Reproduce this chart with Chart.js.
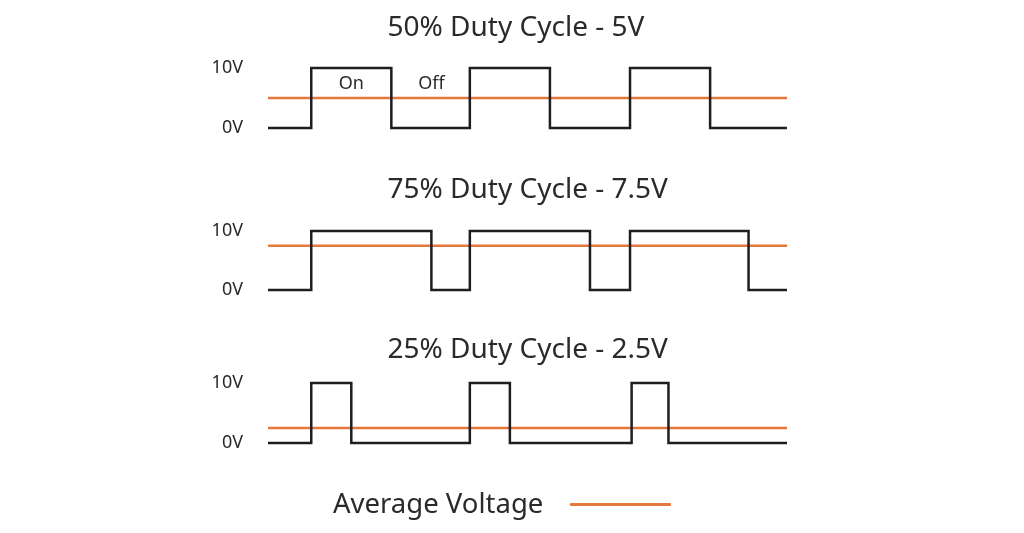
<!DOCTYPE html>
<html><head><meta charset="utf-8">
<script src="https://cdn.jsdelivr.net/npm/chart.js@4"></script>
<style>
html,body{margin:0;padding:0;background:#fff;width:1024px;height:533px;overflow:hidden;}
canvas.c{position:absolute;left:0;top:0;}
#legend{position:absolute;left:333px;top:484px;font-family:'Noto Sans',sans-serif;font-size:27.5px;line-height:38px;color:#2a2a2a;white-space:nowrap;}
#legendLine{position:absolute;left:570px;top:503px;width:101px;height:3px;background:#e5793b;border-radius:1px;}
</style></head>
<body>
<canvas class="c" id="c1" width="1024" height="533"></canvas>
<canvas class="c" id="c2" width="1024" height="533"></canvas>
<canvas class="c" id="c3" width="1024" height="533"></canvas>
<div id="legend">Average Voltage</div>
<div id="legendLine"></div>
<script>
// ---- data ----
const titles = ['50% Duty Cycle - 5V', '75% Duty Cycle - 7.5V', '25% Duty Cycle - 2.5V'];
const averages = [5, 7.5, 2.5];
// time (periods) at which the level changes, and the level held from that time
const times50 = [0, 0.27, 0.77, 1.26, 1.76, 2.26, 2.76, 3.24];
const levels50 = [0, 10, 0, 10, 0, 10, 0, 0];
const times75 = [0, 0.27, 1.02, 1.26, 2.01, 2.26, 3.00, 3.24];
const levels75 = [0, 10, 0, 10, 0, 10, 0, 0];
const times25 = [0, 0.27, 0.52, 1.26, 1.51, 2.27, 2.50, 3.24];
const levels25 = [0, 10, 0, 10, 0, 10, 0, 0];
const yTickValues = [0, 10];
const yTickLabels = ['0V', '10V'];
const noteLabels = ['On', 'Off'];
const noteX = [0.52, 1.02];
const noteY = [7.4, 7.4];
const legendLabel = 'Average Voltage';

const FONT = "'Noto Sans', sans-serif";
const BLACK = '#1e1e1e';
const ORANGE = '#e5793b';
const TEXT = '#2a2a2a';
const X_END = 3.24;

// layout per chart (pixel geometry)
const geo = [
  {capCenter: 28.5, plotTop: 68,  plotBottom: 128},
  {capCenter: 190,  plotTop: 231, plotBottom: 290},
  {capCenter: 350,  plotTop: 383, plotBottom: 443}
];
const PLOT_LEFT = 268, DATA_RIGHT = 787, TITLE_LEFT = 387.5, TITLE_SIZE = 28, PAD_L = 200;

const measureCtx = document.createElement('canvas').getContext('2d');

const notesPlugin = {
  id: 'notes',
  afterDatasetsDraw(chart, args, opts) {
    if (!opts.labels) return;
    const {ctx, scales} = chart;
    ctx.save();
    ctx.font = "18px " + FONT;
    ctx.fillStyle = TEXT;
    ctx.textAlign = 'center';
    ctx.textBaseline = 'middle';
    opts.labels.forEach((t, i) => {
      ctx.fillText(t, scales.x.getPixelForValue(opts.xs[i]), scales.y.getPixelForValue(opts.ys[i]));
    });
    ctx.restore();
  }
};

function makeChart(id, idx, times, levels, notes) {
  const g = geo[idx];
  const lh = TITLE_SIZE * 1.2;
  measureCtx.font = TITLE_SIZE + 'px ' + FONT;
  const w = measureCtx.measureText(titles[idx]).width;
  const center = TITLE_LEFT + w / 2;
  // full-size title is centred between PAD_L and the right edge of the chart area
  const areaRight = 2 * center - PAD_L;
  const xMax = X_END * (areaRight - PLOT_LEFT) / (DATA_RIGHT - PLOT_LEFT);
  new Chart(document.getElementById(id), {
    type: 'line',
    data: {
      datasets: [
        {
          label: 'Signal',
          data: times.map((t, i) => ({x: t, y: levels[i]})),
          borderColor: BLACK, borderWidth: 2.5, stepped: true,
          pointRadius: 0, fill: false, clip: false, borderJoinStyle: 'miter', borderCapStyle: 'butt'
        },
        {
          label: legendLabel,
          data: [{x: 0, y: averages[idx]}, {x: X_END, y: averages[idx]}],
          borderColor: ORANGE, borderWidth: 2.5, pointRadius: 0, fill: false, clip: false
        }
      ]
    },
    options: {
      responsive: false, animation: false, events: [],
      layout: {padding: {left: PAD_L, right: 1024 - areaRight, top: 0, bottom: 533 - g.plotBottom}},
      plugins: {
        legend: {display: false},
        tooltip: {enabled: false},
        title: {
          display: true, text: titles[idx], color: TEXT,
          font: {family: FONT, size: TITLE_SIZE, weight: 'normal'},
          padding: {top: g.capCenter - lh / 2, bottom: g.plotTop - (g.capCenter + lh / 2)}
        },
        notes: notes || {}
      },
      scales: {
        x: {type: 'linear', min: 0, max: xMax, display: false},
        y: {
          min: 0, max: 10,
          afterFit(s) { s.width = PLOT_LEFT - PAD_L; },
          afterBuildTicks(s) { s.ticks = yTickValues.map(v => ({value: v})); },
          grid: {display: false, drawTicks: false},
          border: {display: false},
          ticks: {
            padding: 25, color: TEXT,
            font: {family: FONT, size: 18},
            callback: (v) => yTickLabels[yTickValues.indexOf(v)]
          }
        }
      }
    },
    plugins: [notesPlugin]
  });
}

makeChart('c1', 0, times50, levels50, {labels: noteLabels, xs: noteX, ys: noteY});
makeChart('c2', 1, times75, levels75);
makeChart('c3', 2, times25, levels25);
</script>
</body></html>
